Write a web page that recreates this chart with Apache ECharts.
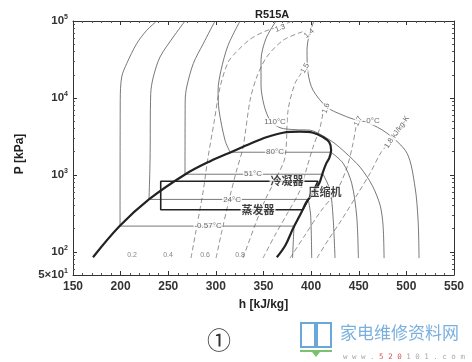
<!DOCTYPE html>
<html><head><meta charset="utf-8">
<script src="https://cdn.jsdelivr.net/npm/echarts@6/dist/echarts.min.js"></script>
<style>html,body{margin:0;padding:0;background:#fff}#c{width:472px;height:362px}</style>
</head><body><div id="c"></div>
<script>
// ---------------- data ----------------
const chartTitle = 'R515A';
const xName = 'h [kJ/kg]';
const yName = 'P [kPa]';
const hTicks = [150, 200, 250, 300, 350, 400, 450, 500, 550];
const pTicks = [50, 100, 1000, 10000, 100000];
const pMinorTicks = [60,70,80,90,200,300,400,500,600,700,800,900,2000,3000,4000,5000,6000,7000,8000,9000,20000,30000,40000,50000,60000,70000,80000,90000];

// saturation dome [h, P]
const dome = [[171,85],[199,216],[230,483],[268,1020],[294,1507],[318,2032],[336,2541],[353,3090],[370.5,3532],[388,3640],[402,3530],[412,3120],[419,2660],[421,2090],[419,1650],[416,1420],[412,1050],[409,804],[402,578],[395,442],[390,330],[381,201],[373,122],[364,85]];

// isotherms: liquid branch (from saturated liquid upward) and vapour branch (from saturated vapour downward)
const tM057Liquid = [[199.4,216],[199.6,9330],[201.1,18700],[206.4,28000],[216.9,50900],[227.4,75700],[237.9,100000]];
const tM057Vapor  = [[382,216],[380.5,83]];
const t24Liquid = [[229.8,480],[230.9,1550],[231.6,11400],[234.3,18700],[241.4,34100],[255.3,61900],[267.6,100000]];
const t24Vapor  = [[397,480],[399.5,300],[400.6,83]];
const t51Liquid = [[267.6,1020],[267.8,9330],[269.4,13900],[276.3,28000],[286.8,50900],[299.1,100000]];
const t51Vapor  = [[412.5,1020],[419.9,632],[423,285],[425.1,83]];
const t80Liquid = [[314.9,1970],[309.6,2820],[303.3,6920],[302.3,12600],[305.4,22900],[312.8,48300],[325.4,100000]];
const t80Vapor  = [[420.9,1970],[433.5,1420],[442.6,780],[447.9,285],[449.6,83]];
const t110 = [[363.2,100000],[352.7,59600],[347.4,30900],[347.4,14600],[350.6,8040],[356.9,5130],[367.4,4100],[383.1,3870],[398.9,3810],[409.4,3380],[423,2660],[435.6,1970],[451.4,1260],[464,735],[472.4,404],[475.5,222],[476.6,83]];
const tOuter = [[403,100000],[397.8,65200],[395.7,41600],[396.8,20900],[402,12600],[416.7,7570],[433.5,5960],[448.2,5130],[458.7,4830],[479.7,3480],[500.7,1910],[509.1,692],[512.3,258],[513.3,83]];

// isentropes (dashed)
const s13 = [[273.9,83],[280.2,222],[286.5,596],[291.8,1700],[298.1,4830],[304.4,13800],[312.8,29100],[321.2,39200],[335.9,57900],[351.6,73500],[367.4,85400],[380,100000]];
const s14 = [[300.2,83],[306.5,191],[313.8,469],[321.2,1080],[328.5,2290],[335.9,9330],[342.9,18700],[353.4,34100],[370.5,56100],[390.1,71900],[394.7,73500]];
const s15 = [[328.5,83],[341.1,222],[351.6,469],[363.2,906],[372.6,1700],[375.8,6920],[383.1,15500],[390.5,21600]];
const s16 = [[349.5,83],[362.1,165],[375.8,328],[388.4,632],[395.7,1260],[402,2290],[409.4,4160],[412.5,6520]];
const s17 = [[377.9,83],[393.6,165],[409.4,328],[427.2,632],[437.7,1260],[444,2580],[447.2,4290]];
const s18 = [[406.2,83],[417.8,142],[430.4,243],[449.3,578],[461.9,1050],[473.5,1970],[482.9,2660]];

// refrigeration cycle
const cycle = [[407.3,828],[242.1,828],[242.1,353],[391.5,353],[407.3,828]];

// labels [text, h, P]
const tempLabels = [['110°C',362.1,4830],['80°C',362.1,1970],['51°C',339,1020],['24°C',317,480],['-0.57°C',291.8,216],['0°C',465,4980]];
const qualityLabels = [['0.2',212,90.6],['0.4',249.8,90.6],['0.6',288.6,90.6],['0.8',325.4,92]];
const entropyLabels = [['1.3',367.4,80400],['1.4',397.8,69200],['1.5',393.6,24300],['1.6',415.6,7350],['1.7',449.3,4980],['1.8 kJ/kg-K',490,3590]];
const cycleLabels = [['冷凝器',374.7,828],['蒸发器',344.3,353],['压缩机',414.6,600]];

// ---------------- chart ----------------
const FONT = 'Liberation Sans, Arial, sans-serif';
const CJK = 'Noto Sans CJK SC';
const entropyAngles = [20, 40, 60, 72, 65, 55];

function line(data, opt) {
  return Object.assign({type:'line', data:data, symbol:'none', silent:true, animation:false,
    xAxisIndex:0, yAxisIndex:0}, opt);
}
const isoStyle = {lineStyle:{color:'#555', width:0.8}, z:3};
const isoSmooth = Object.assign({smooth:0.3}, isoStyle);
const sStyle = {lineStyle:{color:'#777', width:0.8, type:[5,3]}, smooth:0.3, z:2};

const series = [];
[[tM057Liquid,tM057Vapor],[t24Liquid,t24Vapor],[t51Liquid,t51Vapor],[t80Liquid,t80Vapor]].forEach(([liq,vap]) => {
  series.push(line(liq, isoSmooth));
  series.push(line([liq[0], vap[0]], isoStyle));
  series.push(line(vap, isoSmooth));
});
series.push(line(t110, isoSmooth));
series.push(line(tOuter, isoSmooth));
[s13,s14,s15,s16,s17,s18].forEach(s => series.push(line(s, sStyle)));
series.push(line(dome, {smooth:0.35, lineStyle:{color:'#222', width:2.2}, z:5}));
series.push(line(cycle, {lineStyle:{color:'#222', width:1.6}, z:5}));

function labelSeries(arr, labelStyle, perItem) {
  return {type:'scatter', symbolSize:1, itemStyle:{color:'rgba(0,0,0,0)'}, silent:true, animation:false, z:10,
    xAxisIndex:0, yAxisIndex:0,
    data: arr.map((d,i) => {
      const item = {name:d[0], value:[d[1], d[2]]};
      if (perItem) item.label = perItem(i);
      return item;
    }),
    label: Object.assign({show:true, position:'inside', formatter:'{b}'}, labelStyle)};
}
series.push(labelSeries(tempLabels, {fontSize:8, color:'#444', fontFamily:FONT, backgroundColor:'#fff', padding:[0,1]}));
series.push(labelSeries(qualityLabels, {fontSize:7, color:'#666', fontFamily:FONT}));
series.push(labelSeries(entropyLabels, {fontSize:7.5, color:'#444', fontFamily:FONT, backgroundColor:'#fff', padding:[0,1]},
  i => ({rotate: entropyAngles[i]})));
series.push(labelSeries(cycleLabels, {fontSize:11, fontWeight:'bold', color:'#111', fontFamily:CJK, backgroundColor:'#fff', padding:[0,1]}));

const xCommon = {type:'value', min:hTicks[0], max:hTicks[hTicks.length-1], interval:hTicks[1]-hTicks[0],
  splitLine:{show:false}, axisLine:{show:true, lineStyle:{color:'#333', width:1}},
  axisTick:{show:true, inside:true, length:4, lineStyle:{color:'#333'}},
  minorTick:{show:true, splitNumber:5, length:2, lineStyle:{color:'#555'}}};
const yCommon = {type:'log', logBase:10, min:pTicks[0], max:pTicks[pTicks.length-1],
  splitLine:{show:false}, axisLine:{show:true, lineStyle:{color:'#333', width:1}},
  axisTick:{show:true, inside:true, length:4, lineStyle:{color:'#333'}}};
const yMinor = Object.assign({}, yCommon, {axisLine:{show:false}, axisLabel:{show:false},
  axisTick:{show:true, inside:true, length:2, customValues:pMinorTicks, lineStyle:{color:'#555'}}});

const option = {
  animation:false,
  backgroundColor:'#fff',
  textStyle:{fontFamily:FONT},
  title:{text:chartTitle, left:250, top:4, textStyle:{fontSize:11, fontWeight:'bold', color:'#222', fontFamily:FONT}},
  grid:{left:73, right:18, top:21, bottom:87, containLabel:false},
  xAxis:[
    Object.assign({}, xCommon, {position:'bottom',
      axisLabel:{color:'#333', fontWeight:'bold', fontSize:12, margin:6, fontFamily:FONT},
      name:xName, nameLocation:'middle', nameGap:24,
      nameTextStyle:{color:'#222', fontWeight:'bold', fontSize:12, fontFamily:FONT}}),
    Object.assign({}, xCommon, {position:'top', axisLabel:{show:false}})
  ],
  yAxis:[
    Object.assign({}, yCommon, {position:'left',
      axisLabel:{margin:5, color:'#333', fontFamily:FONT,
        formatter: v => {
          if (Math.abs(v - 50) < 1) return '{n|5×10}{s|1}';
          return '{n|10}{s|' + Math.round(Math.log10(v)) + '}';
        },
        rich:{n:{fontSize:11.5, fontWeight:'bold', color:'#333', fontFamily:FONT},
              s:{fontSize:7, fontWeight:'bold', color:'#333', fontFamily:FONT, padding:[0,0,7,0]}}},
      name:yName, nameLocation:'middle', nameGap:47,
      nameTextStyle:{color:'#222', fontWeight:'bold', fontSize:12, fontFamily:FONT, padding:[0,12,0,0]}}),
    Object.assign({}, yMinor, {position:'left'}),
    Object.assign({}, yCommon, {position:'right', axisLabel:{show:false}}),
    Object.assign({}, yMinor, {position:'right'})
  ],
  series: series,
  graphic:[
    {type:'text', left:207, top:328, style:{text:'①', font:'24px "Noto Sans CJK SC"', fill:'#333'}},
    {type:'rect', shape:{x:301, y:323, width:14, height:24}, style:{fill:'none', stroke:'#6aa8dc', lineWidth:2}},
    {type:'rect', shape:{x:317, y:323, width:14, height:24}, style:{fill:'none', stroke:'#6aa8dc', lineWidth:2}},
    {type:'rect', shape:{x:300, y:350, width:32, height:2}, style:{fill:'#7cc26e'}},
    {type:'polygon', shape:{points:[[312,352],[320,352],[316,357]]}, style:{fill:'#7cc26e'}},
    {type:'text', x:340, y:324, style:{text:'家电维修资料网', font:'17px "Noto Sans CJK SC"', fill:'#7ab0de'}},
    {type:'text', x:343, y:353, style:{
      text:'{g|w w w . }{r|5 2 0}{g| 1 0 1 . c o m}',
      rich:{g:{fontSize:7.5, fontFamily:'DejaVu Sans Mono', fill:'#aaa'}, r:{fontSize:7.5, fontFamily:'DejaVu Sans Mono', fill:'#e05050'}}}}
  ]
};
const chart = echarts.init(document.getElementById('c'), null, {renderer:'canvas'});
chart.setOption(option);
</script>
</body></html>
